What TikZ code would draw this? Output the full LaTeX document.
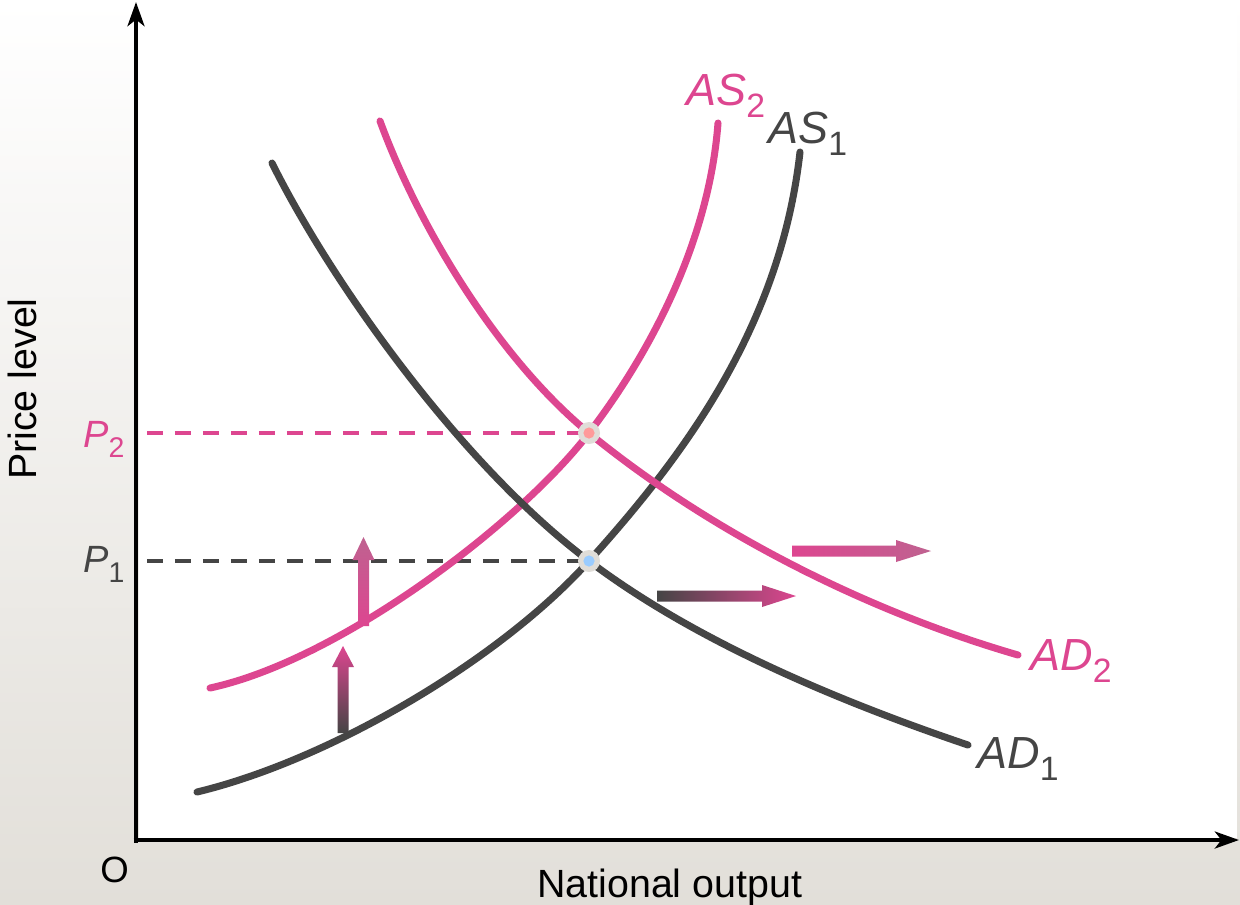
\documentclass[tikz,border=0pt]{standalone}
\usepackage{fontspec}
\setmainfont{Liberation Sans}
\usetikzlibrary{arrows.meta}

\definecolor{adpink}{HTML}{DD4690}
\definecolor{addark}{HTML}{454545}
\definecolor{admauve}{HTML}{BF6290}
\definecolor{bggrey}{HTML}{E2DFD9}
\definecolor{ringgrey}{HTML}{E0DDD8}
\definecolor{dotpink}{HTML}{FF9A9A}
\definecolor{dotblue}{HTML}{9ACCFF}

\newcommand{\curvelbl}[2]{\textit{#1}\raisebox{-0.27em}{\scalebox{0.75}{#2}}}

\begin{document}
\begin{tikzpicture}[x=0.025cm, y=-0.025cm,
    axis/.style={line width=3.5pt, -{Stealth[length=6mm, width=4.2mm, inset=1.6mm]}},
    curve/.style={line width=5pt, line cap=round},
    guide/.style={line width=2.3pt, dash pattern=on 11.4pt off 8.5pt},
    lbl/.style={font=\fontsize{32}{38}\selectfont, inner sep=0pt, anchor=base west},
    plbl/.style={font=\fontsize{27}{32}\selectfont, inner sep=0pt, anchor=base west},
    title/.style={font=\fontsize{28}{34}\selectfont, inner sep=0pt}
]
\useasboundingbox (0,0) rectangle (1240,904);
\shade[top color=white, bottom color=bggrey] (0,0) rectangle (1240,904);
\fill[white] (138.5,0) rectangle (1237,837.5);

\coordinate (O) at (136,840);
\coordinate (E1) at (589,561);
\coordinate (E2) at (589,433);

% price guides
\draw[guide, adpink] (147,433) -- (E2);
\draw[guide, addark] (147,561) -- (E1);

% curves
\draw[curve, addark] (197,792) .. controls (330,760) and (500,660) .. (E1) .. controls (680,460) and (780,330) .. (800,152);
\draw[curve, adpink] (210,688) .. controls (340,660) and (520,523) .. (E2) .. controls (660,340) and (710,230) .. (718,123);
\draw[curve, addark] (272,163) .. controls (330,280) and (460,464) .. (E1) .. controls (700,645) and (850,705) .. (968,745);
\draw[curve, adpink] (380,121) .. controls (420,230) and (500,360) .. (E2) .. controls (720,540) and (880,615) .. (1018,655);

% shift arrows
\shade[bottom color=addark, top color=adpink] (337.5,733) -- (337.5,667) -- (332,667) -- (343,646) -- (354,667) -- (348.5,667) -- (348.5,733) -- cycle;
\shade[bottom color=adpink, top color=admauve] (358,626) -- (358,560) -- (352.5,560) -- (363.5,537) -- (374.5,560) -- (369,560) -- (369,626) -- cycle;
\shade[left color=addark, right color=adpink] (657,590.5) -- (762,590.5) -- (762,585) -- (796,596) -- (762,607) -- (762,601.5) -- (657,601.5) -- cycle;
\shade[left color=adpink, right color=admauve] (792,545.5) -- (896,545.5) -- (896,540) -- (931,551) -- (896,562) -- (896,556.5) -- (792,556.5) -- cycle;

% equilibria
\fill[ringgrey] (E2) circle (0.275cm);
\fill[dotpink] (E2) circle (0.14cm);
\fill[ringgrey] (E1) circle (0.275cm);
\fill[dotblue] (E1) circle (0.14cm);

% axes
\draw[axis] (136,842.5) -- (136,2);
\draw[axis] (133.5,840) -- (1239,840);

% labels
\node[lbl, adpink] (as2) at (686,105) {\curvelbl{AS}{2}};
\node[lbl, addark] (as1) at (768,143) {\curvelbl{AS}{1}};
\node[lbl, adpink] (ad2) at (1030,670) {\curvelbl{AD}{2}};
\node[lbl, addark] (ad1) at (977,768) {\curvelbl{AD}{1}};
\node[plbl, adpink] (p2) at (83,447) {\curvelbl{P}{2}};
\node[plbl, addark] (p1) at (83,572) {\curvelbl{P}{1}};
\node[title, anchor=base west, font=\fontsize{26}{32}\selectfont] (orig) at (100,882) {O};
\node[title, anchor=base west] (xlab) at (537,897) {National output};
\node[title, anchor=base, rotate=90] (ylab) at (36,389) {Price level};
\end{tikzpicture}
\end{document}
